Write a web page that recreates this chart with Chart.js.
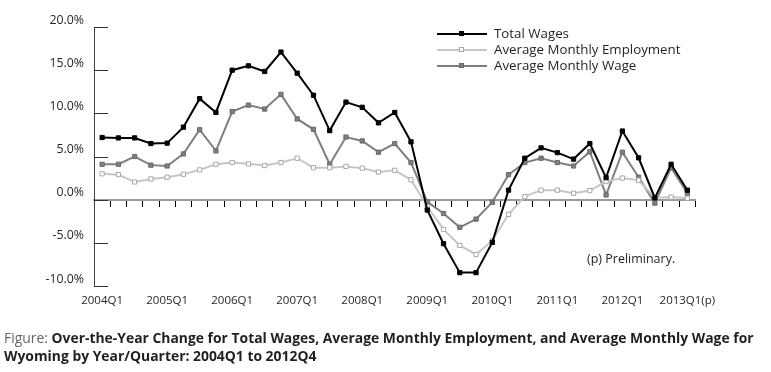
<!DOCTYPE html>
<html>
<head>
<meta charset="utf-8">
<script src="https://cdn.jsdelivr.net/npm/chart.js@4.4.1/dist/chart.umd.min.js"></script>
<style>
    body { margin: 0; background: #fff; }
    .wrap { position: relative; width: 771px; height: 372px; overflow: hidden; font-family: "Open Sans", sans-serif; color: #231f20; }
    #myChart { position: absolute; left: 0; top: 0; }
    .legend { position: absolute; left: 437px; top: 26px; }
    .legend-row { position: relative; height: 16px; width: 300px; }
    .legend-line { position: absolute; left: 0; top: 7px; width: 50px; height: 0; }
    .legend-mark { position: absolute; left: 22px; top: 5px; width: 5px; height: 5px; box-sizing: border-box; }
    .legend-text { position: absolute; left: 57px; top: -1px; font-size: 13.3px; line-height: 16px; white-space: nowrap; }
    .note { position: absolute; left: 587px; top: 250px; font-size: 12.5px; white-space: nowrap; }
    .caption { position: absolute; left: 4px; top: 329px; font-size: 13.9px; line-height: 18px; white-space: nowrap; }
    .caption span { color: #666; }
    .caption b { color: #231f20; }
</style>
</head>
<body>
<div class="wrap">
    <canvas id="myChart" width="771" height="372"></canvas>
    <div class="legend" id="legend"></div>
    <div class="note">(p) Preliminary.</div>
    <div class="caption"><span>Figure:</span> <b>Over-the-Year Change for Total Wages, Average Monthly Employment, and Average Monthly Wage for</b><br><b>Wyoming by Year/Quarter: 2004Q1 to 2012Q4</b></div>
</div>
<script>
const quarters = [
    '2004Q1', '2004Q2', '2004Q3', '2004Q4',
    '2005Q1', '2005Q2', '2005Q3', '2005Q4',
    '2006Q1', '2006Q2', '2006Q3', '2006Q4',
    '2007Q1', '2007Q2', '2007Q3', '2007Q4',
    '2008Q1', '2008Q2', '2008Q3', '2008Q4',
    '2009Q1', '2009Q2', '2009Q3', '2009Q4',
    '2010Q1', '2010Q2', '2010Q3', '2010Q4',
    '2011Q1', '2011Q2', '2011Q3', '2011Q4',
    '2012Q1', '2012Q2', '2012Q3', '2012Q4',
    '2013Q1(p)'
];

const tickLabels = ['2004Q1', '2005Q1', '2006Q1', '2007Q1', '2008Q1', '2009Q1', '2010Q1', '2011Q1', '2012Q1', '2013Q1(p)'];

const seriesNames = ['Total Wages', 'Average Monthly Employment', 'Average Monthly Wage'];

const totalWages = [7.2, 7.15, 7.15, 6.5, 6.55, 8.4, 11.7, 10.1, 15.0, 15.5, 14.85, 17.1, 14.65, 12.1, 8.0, 11.3, 10.7, 8.9, 10.1, 6.7,
    -1.2, -5.1, -8.45, -8.45, -4.95, 1.1, 4.8, 6.0, 5.45, 4.7, 6.5, 2.55, 7.95, 4.85, 0.2, 4.1, 1.1];

const avgEmployment = [3.0, 2.9, 2.05, 2.4, 2.6, 2.95, 3.45, 4.1, 4.3, 4.15, 3.95, 4.3, 4.8, 3.7, 3.7, 3.85, 3.65, 3.2, 3.4, 2.3,
    -0.8, -3.45, -5.3, -6.35, -4.75, -1.7, 0.35, 1.1, 1.1, 0.75, 1.05, 2.1, 2.5, 2.25, 0.2, 0.3, 0.15];

const avgWage = [4.1, 4.1, 5.0, 4.0, 3.9, 5.3, 8.1, 5.65, 10.2, 10.95, 10.5, 12.2, 9.35, 8.15, 4.1, 7.25, 6.8, 5.5, 6.5, 4.3,
    -0.25, -1.6, -3.2, -2.25, -0.3, 2.9, 4.3, 4.8, 4.3, 3.9, 5.55, 0.55, 5.5, 2.6, -0.4, 3.7, 0.75];

const yTicks = [-10, -5, 0, 5, 10, 15, 20];

const xFont = { family: '"Open Sans", sans-serif', size: 11.5 };
const yFont = { family: '"Open Sans", sans-serif', size: 12.3 };

function makeDataset(label, data, line, fill, border) {
    return {
        label: label,
        data: data,
        xAxisID: 'x',
        yAxisID: 'y',
        borderColor: line,
        borderWidth: 2,
        tension: 0,
        pointStyle: 'rect',
        pointRadius: 3,
        pointHoverRadius: 3,
        pointBackgroundColor: fill,
        pointBorderColor: border,
        pointBorderWidth: 1
    };
}

const datasets = [
    makeDataset(seriesNames[0], totalWages, '#000000', '#000000', '#000000'),
    makeDataset(seriesNames[1], avgEmployment, '#c6c6c6', '#ffffff', '#a8a8a8'),
    makeDataset(seriesNames[2], avgWage, '#7f7f7f', '#7f7f7f', '#6a6a6a')
];

function buildLegend() {
    let box = document.getElementById('legend');
    datasets.forEach(function(ds) {
        let row = document.createElement('div');
        row.className = 'legend-row';
        row.innerHTML = `<div class="legend-line" style="border-top:2px solid ${ds.borderColor}"></div>` +
            `<div class="legend-mark" style="background:${ds.pointBackgroundColor};border:1px solid ${ds.pointBorderColor}"></div>` +
            `<div class="legend-text">${ds.label}</div>`;
        box.appendChild(row);
    });
}

// short tick marks pointing into the plot from the y axis
const innerTicks = {
    id: 'innerTicks',
    afterDraw(chart) {
        let y = chart.scales.y;
        let left = chart.chartArea.left;
        let c = chart.ctx;
        c.save();
        c.strokeStyle = '#333';
        c.lineWidth = 1;
        yTicks.forEach(function(v) {
            let py = Math.round(y.getPixelForValue(v)) + 0.5;
            c.beginPath();
            c.moveTo(left, py);
            c.lineTo(left + 14, py);
            c.stroke();
        });
        c.restore();
    }
};

const ctx = document.getElementById('myChart');
const myChart = new Chart(ctx, {
    type: 'line',
    data: {
        labels: quarters,
        datasets: datasets
    },
    plugins: [innerTicks],
    options: {
        responsive: false,
        animation: false,
        layout: {
            padding: { left: 0, right: 75.5, top: 27, bottom: 0 }
        },
        plugins: {
            legend: { display: false },
            tooltip: { enabled: false }
        },
        scales: {
            x: {
                type: 'category',
                offset: true,
                grid: { display: false, drawTicks: false },
                border: { display: false },
                afterFit: function(scale) { scale.height = 86; },
                ticks: {
                    autoSkip: false,
                    maxRotation: 0,
                    padding: 8,
                    color: '#231f20',
                    font: xFont,
                    callback: function(value) {
                        let label = this.getLabelForValue(value);
                        return tickLabels.includes(label) ? label : '';
                    }
                }
            },
            xz: {
                type: 'category',
                axis: 'x',
                offset: true,
                position: { y: 0 },
                grid: { offset: true, drawOnChartArea: false, drawTicks: true, tickLength: 6, color: '#000', lineWidth: 1 },
                border: { color: '#9a9a9a', width: 2 },
                ticks: { display: false }
            },
            y: {
                min: -10,
                max: 20,
                afterFit: function(scale) { scale.width = 94; },
                afterBuildTicks: function(scale) {
                    scale.ticks = yTicks.map(v => ({ value: v }));
                },
                grid: { drawOnChartArea: false, drawTicks: false },
                border: { color: '#444', width: 1 },
                ticks: {
                    padding: 10,
                    labelOffset: -7,
                    color: '#231f20',
                    font: yFont,
                    callback: v => v.toFixed(1) + '%'
                }
            }
        }
    }
});

buildLegend();
</script>
</body>
</html>
